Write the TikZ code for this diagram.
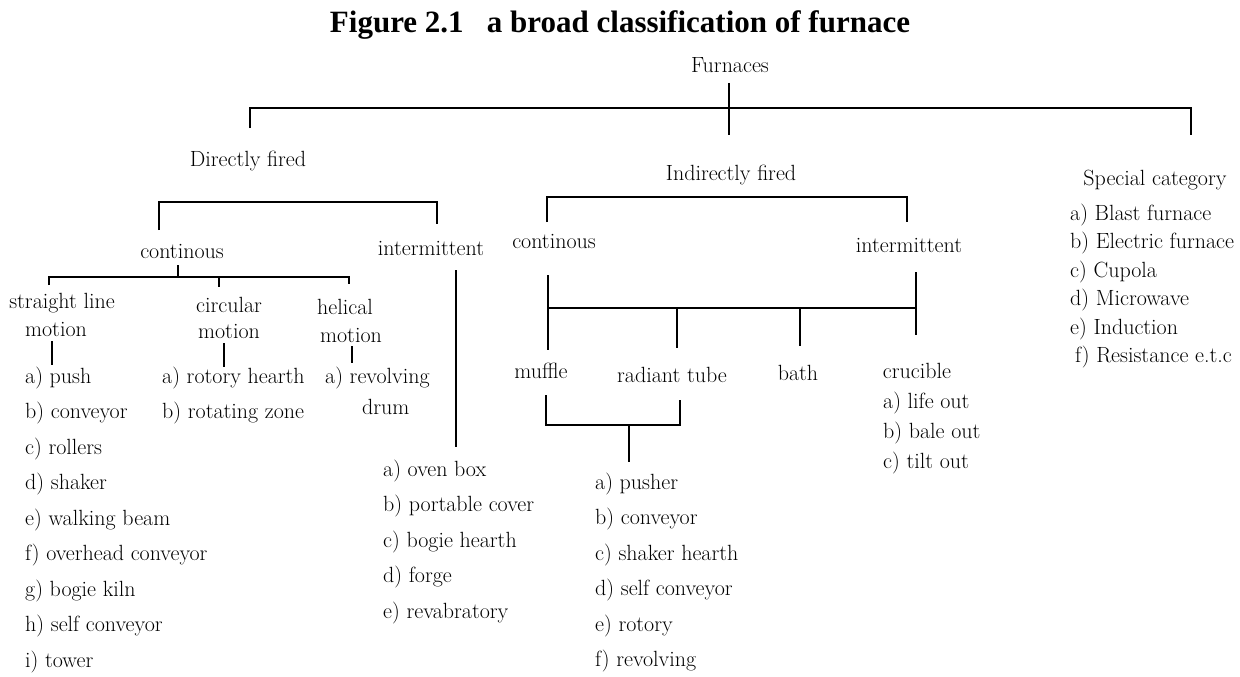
\documentclass[tikz,border=0pt]{standalone}
\usepackage{fontspec}
\newfontfamily\titlefont{Liberation Serif}
\begin{document}
\begin{tikzpicture}[x=1pt,y=-1pt,
  lbl/.style={inner sep=0pt, font=\fontsize{22}{26}\selectfont, anchor=base},
  item/.style={inner sep=0pt, font=\fontsize{22}{26}\selectfont, anchor=base west},
  link/.style={line width=2.8pt, line cap=butt, line join=miter}]
\fill[white] (0,0) rectangle (1240,677);
\useasboundingbox (0,0) rectangle (1240,677);

% title
\node[anchor=base, inner sep=0pt, font=\titlefont\bfseries\fontsize{31}{36}\selectfont] (title) at (620,33)
  {Figure 2.1\hspace{0.75em}a broad classification of furnace};

% level 0 / 1
\node[lbl] (furn) at (730,73) {Furnaces};
\node[lbl] (dir) at (248,166) {Directly fired};
\node[lbl] (ind) at (731,180) {Indirectly fired};
\node[lbl] (spc) at (1155,185) {Special category};

\coordinate (fs) at (729,83);
\coordinate (fb) at (729,135);
\coordinate (tbar) at (729,108);
\coordinate (tl) at (250,128);
\coordinate (tr) at (1191,135);
\draw[link] (fs) -- (fb);
\draw[link] (tl) -- (tl |- tbar) -- (tr |- tbar) -- (tr);

% ---------- directly fired ----------
\coordinate (dL) at (159,230);
\coordinate (dR) at (437,224);
\coordinate (dbar) at (300,202);
\draw[link] (dL) -- (dL |- dbar) -- (dR |- dbar) -- (dR);

\node[lbl] (dc) at (182,258) {continous};
\node[lbl] (di) at (431,255) {intermittent};

\coordinate (dcs) at (178,265);
\coordinate (sbar) at (178,277);
\coordinate (s1) at (49,285);
\coordinate (s2) at (219,287);
\coordinate (s3) at (349,284);
\draw[link] (dcs) -- (sbar);
\draw[link] (s1) -- (s1 |- sbar) -- (s3 |- sbar) -- (s3);
\draw[link] (s2 |- sbar) -- (s2);

\node[lbl] (sl1) at (62,308) {straight line};
\node[lbl] (sl2) at (56,336) {motion};
\node[lbl] (cm1) at (229,312) {circular};
\node[lbl] (cm2) at (229,338) {motion};
\node[lbl] (hm1) at (345,314) {helical};
\node[lbl] (hm2) at (351,342) {motion};

\coordinate (slt) at (52,341);  \coordinate (slb) at (52,365);
\coordinate (cmt) at (224,343); \coordinate (cmb) at (224,367);
\coordinate (hmt) at (352,346); \coordinate (hmb) at (352,363);
\draw[link] (slt) -- (slb);
\draw[link] (cmt) -- (cmb);
\draw[link] (hmt) -- (hmb);

\foreach \t [count=\i] in {a) push, b) conveyor, c) rollers, d) shaker, e) walking beam,
  f) overhead conveyor, g) bogie kiln, h) self conveyor, i) tower}
  \node[item] (sl-\i) at (25,{383+35.5*(\i-1)}) {\t};

\node[item] (cm-1) at (162,383) {a) rotory hearth};
\node[item] (cm-2) at (162,418.5) {b) rotating zone};

\node[item] (hm-1) at (325,383) {a) revolving};
\node[item] (hm-2) at (362,414) {drum};

\coordinate (dit) at (456,270);
\coordinate (dib) at (456,447);
\draw[link] (dit) -- (dib);

\foreach \t [count=\i] in {a) oven box, b) portable cover, c) bogie hearth, d) forge, e) revabratory}
  \node[item] (di-\i) at (383,{476+35.5*(\i-1)}) {\t};

% ---------- indirectly fired ----------
\coordinate (iL) at (547,222);
\coordinate (iR) at (907,222);
\coordinate (ibar) at (700,197);
\draw[link] (iL) -- (iL |- ibar) -- (iR |- ibar) -- (iR);

\node[lbl] (ic) at (554,248) {continous};
\node[lbl] (ii) at (909,252) {intermittent};

\coordinate (ict) at (548,275);
\coordinate (icb) at (548,350);
\coordinate (iit) at (916,272);
\coordinate (iib) at (916,335);
\coordinate (hbar) at (700,308);
\coordinate (rt) at (677,348);
\coordinate (bt) at (800,346);
\draw[link] (ict) -- (icb);
\draw[link] (iit) -- (iib);
\draw[link] (ict |- hbar) -- (iit |- hbar);
\draw[link] (rt |- hbar) -- (rt);
\draw[link] (bt |- hbar) -- (bt);

\node[lbl] (muf) at (541,378) {muffle};
\node[lbl] (rad) at (672,382) {radiant tube};
\node[lbl] (bath) at (798,380) {bath};
\node[lbl] (cru) at (917,378) {crucible};

\foreach \t [count=\i] in {a) life out, b) bale out, c) tilt out}
  \node[item] (cr-\i) at (883,{408+30*(\i-1)}) {\t};

\coordinate (mL) at (546,395);
\coordinate (mR) at (680,400);
\coordinate (mbar) at (629,425);
\coordinate (mst) at (629,462);
\draw[link] (mL) -- (mL |- mbar) -- (mR |- mbar) -- (mR);
\draw[link] (mbar) -- (mst);

\foreach \t [count=\i] in {a) pusher, b) conveyor, c) shaker hearth, d) self conveyor, e) rotory, f) revolving}
  \node[item] (mr-\i) at (595,{489+35.5*(\i-1)}) {\t};

% ---------- special category ----------
\foreach \t [count=\i] in {a) Blast furnace, b) Electric furnace, c) Cupola, d) Microwave, e) Induction}
  \node[item] (sp-\i) at (1070,{220+28.5*(\i-1)}) {\t};
\node[item] (sp-6) at (1075,{220+28.5*5}) {f) Resistance e.t.c};
\end{tikzpicture}
\end{document}
